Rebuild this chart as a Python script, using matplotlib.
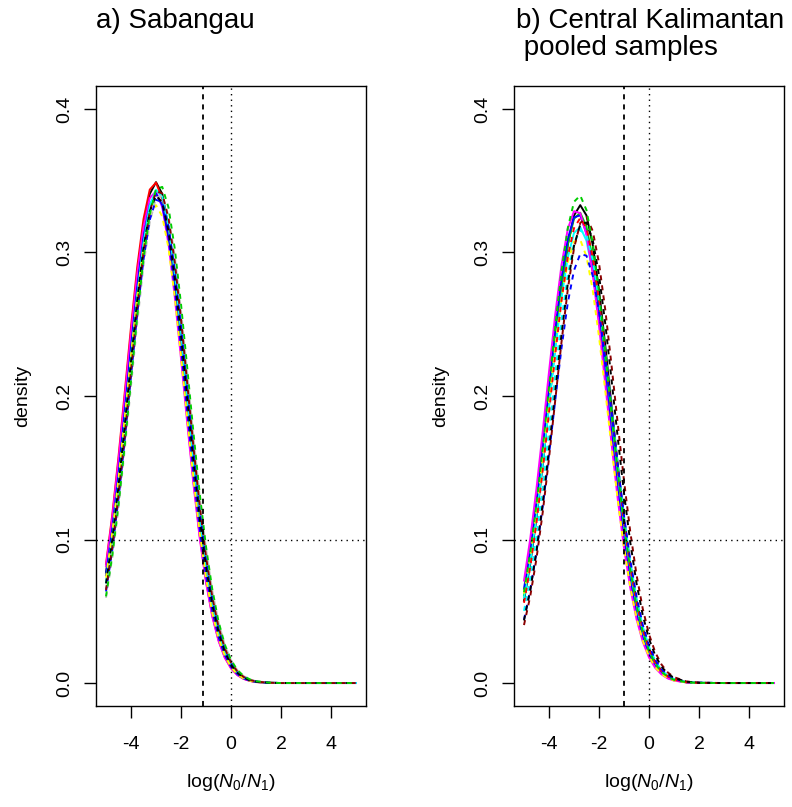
import matplotlib
matplotlib.use("Agg")
import matplotlib.pyplot as plt

plt.rcParams['font.family'] = ['Liberation Sans', 'DejaVu Sans']
plt.rcParams['mathtext.fontset'] = 'custom'
plt.rcParams['mathtext.rm'] = 'Liberation Sans'
plt.rcParams['mathtext.it'] = 'Liberation Sans:italic'
plt.rcParams['axes.unicode_minus'] = False

# ---------------- data ----------------
x_grid = [-5, -4.75, -4.5, -4.25, -4, -3.75, -3.5, -3.25, -3, -2.75, -2.5, -2.25, -2,
          -1.75, -1.5, -1.25, -1, -0.75, -0.5, -0.25, 0, 0.25, 0.5, 0.75, 1.0, 1.5, 2, 3, 4, 5]

# a) Sabangau
sab_black_solid = [0.0769,0.1097,0.1491,0.1933,0.2391,0.2821,0.3175,0.3408,0.3490,0.3408,0.3175,0.2821,0.2391,0.1933,0.1491,0.1097,0.0769,0.0515,0.0328,0.0200,0.0116,0.0064,0.0034,0.0017,0.0008,0.0002,0.0000,0,0,0]
sab_red_solid = [0.0829,0.1170,0.1576,0.2025,0.2481,0.2900,0.3233,0.3438,0.3487,0.3373,0.3113,0.2740,0.2300,0.1842,0.1407,0.1025,0.0713,0.0472,0.0299,0.0180,0.0104,0.0057,0.0030,0.0015,0.0007,0.0001,0,0,0,0]
sab_magenta_solid = [0.0815,0.1150,0.1549,0.1990,0.2438,0.2850,0.3177,0.3379,0.3427,0.3315,0.3059,0.2693,0.2261,0.1811,0.1383,0.1008,0.0700,0.0464,0.0294,0.0177,0.0102,0.0056,0.0029,0.0015,0.0007,0.0001,0,0,0,0]
sab_blue_solid = [0.0752,0.1071,0.1456,0.1889,0.2337,0.2757,0.3102,0.3330,0.3410,0.3330,0.3102,0.2757,0.2337,0.1889,0.1456,0.1071,0.0752,0.0503,0.0321,0.0195,0.0114,0.0063,0.0033,0.0017,0.0008,0.0002,0,0,0,0]
sab_cyan_solid = [0.0702,0.1011,0.1387,0.1816,0.2267,0.2701,0.3068,0.3325,0.3437,0.3388,0.3186,0.2858,0.2445,0.1996,0.1554,0.1153,0.0817,0.0552,0.0356,0.0218,0.0128,0.0072,0.0038,0.0020,0.0009,0.0002,0,0,0,0]
sab_green_dashed = [0.0604,0.0886,0.1240,0.1654,0.2105,0.2555,0.2958,0.3266,0.3441,0.3457,0.3313,0.3028,0.2641,0.2196,0.1742,0.1318,0.0951,0.0655,0.0430,0.0269,0.0161,0.0092,0.0050,0.0026,0.0013,0.0003,0,0,0,0]
sab_black_dashed = [0.0694,0.0999,0.1371,0.1795,0.2241,0.2669,0.3032,0.3286,0.3397,0.3349,0.3149,0.2825,0.2417,0.1973,0.1535,0.1140,0.0808,0.0545,0.0352,0.0216,0.0126,0.0071,0.0038,0.0019,0.0009,0.0002,0,0,0,0]
sab_blue_dashed = [0.0638,0.0927,0.1284,0.1697,0.2139,0.2572,0.2950,0.3227,0.3367,0.3351,0.3182,0.2881,0.2488,0.2050,0.1611,0.1208,0.0863,0.0589,0.0383,0.0238,0.0141,0.0079,0.0043,0.0022,0.0011,0.0002,0,0,0,0]
sab_yellow_dashed = [0.0734,0.1046,0.1422,0.1845,0.2282,0.2692,0.3030,0.3252,0.3330,0.3252,0.3030,0.2692,0.2282,0.1845,0.1422,0.1046,0.0734,0.0491,0.0313,0.0191,0.0111,0.0061,0.0032,0.0016,0.0008,0.0002,0,0,0,0]
sab_darkred_dashed = [0.0649,0.0943,0.1307,0.1727,0.2177,0.2618,0.3002,0.3285,0.3427,0.3411,0.3238,0.2932,0.2533,0.2086,0.1640,0.1229,0.0879,0.0599,0.0390,0.0242,0.0143,0.0081,0.0043,0.0022,0.0011,0.0002,0,0,0,0]
sab_gray_dashed = [0.0594,0.0871,0.1218,0.1625,0.2068,0.2510,0.2907,0.3210,0.3381,0.3397,0.3256,0.2976,0.2595,0.2158,0.1712,0.1295,0.0935,0.0644,0.0423,0.0265,0.0158,0.0090,0.0049,0.0025,0.0013,0.0003,0,0,0,0]

# b) Central Kalimantan pooled samples
ck_black_solid = [0.0574,0.0831,0.1150,0.1524,0.1936,0.2353,0.2739,0.3053,0.3258,0.3330,0.3258,0.3053,0.2739,0.2353,0.1936,0.1524,0.1150,0.0831,0.0574,0.0380,0.0241,0.0146,0.0085,0.0047,0.0025,0.0006,0.0001,0,0,0]
ck_magenta_solid = [0.0714,0.1006,0.1357,0.1753,0.2168,0.2568,0.2912,0.3163,0.3288,0.3274,0.3122,0.2850,0.2491,0.2085,0.1671,0.1282,0.0942,0.0663,0.0446,0.0288,0.0178,0.0105,0.0060,0.0032,0.0017,0.0004,0.0001,0,0,0]
ck_blue_solid = [0.0657,0.0934,0.1271,0.1656,0.2066,0.2468,0.2824,0.3093,0.3245,0.3259,0.3134,0.2886,0.2544,0.2148,0.1737,0.1344,0.0996,0.0707,0.0480,0.0313,0.0195,0.0116,0.0066,0.0036,0.0019,0.0005,0.0001,0,0,0]
ck_green_solid = [0.0611,0.0876,0.1202,0.1581,0.1989,0.2398,0.2767,0.3057,0.3235,0.3277,0.3179,0.2953,0.2626,0.2237,0.1824,0.1424,0.1065,0.0762,0.0523,0.0343,0.0215,0.0130,0.0075,0.0041,0.0022,0.0005,0.0001,0,0,0]
ck_cyan_solid = [0.0592,0.0849,0.1166,0.1532,0.1929,0.2325,0.2682,0.2964,0.3136,0.3177,0.3082,0.2863,0.2546,0.2168,0.1768,0.1381,0.1033,0.0739,0.0507,0.0333,0.0209,0.0126,0.0073,0.0040,0.0021,0.0005,0.0001,0,0,0]
ck_green_dashed = [0.0633,0.0908,0.1246,0.1638,0.2062,0.2485,0.2868,0.3169,0.3353,0.3397,0.3295,0.3061,0.2722,0.2318,0.1891,0.1476,0.1104,0.0790,0.0542,0.0356,0.0223,0.0135,0.0078,0.0043,0.0022,0.0005,0.0001,0,0,0]
ck_red_dashed = [0.0559,0.0808,0.1119,0.1483,0.1883,0.2289,0.2665,0.2971,0.3170,0.3240,0.3170,0.2971,0.2665,0.2289,0.1883,0.1483,0.1119,0.0808,0.0559,0.0370,0.0235,0.0142,0.0083,0.0046,0.0025,0.0006,0.0001,0,0,0]
ck_yellow_dashed = [0.0623,0.0885,0.1205,0.1570,0.1959,0.2340,0.2677,0.2933,0.3076,0.3089,0.2971,0.2736,0.2412,0.2036,0.1646,0.1274,0.0945,0.0671,0.0455,0.0296,0.0185,0.0110,0.0063,0.0034,0.0018,0.0004,0.0001,0,0,0]
ck_blue_dashed = [0.0441,0.0649,0.0914,0.1233,0.1593,0.1971,0.2334,0.2648,0.2875,0.2990,0.2977,0.2838,0.2591,0.2264,0.1895,0.1519,0.1166,0.0857,0.0603,0.0406,0.0262,0.0162,0.0096,0.0054,0.0029,0.0008,0.0002,0,0,0]
ck_darkred_dashed = [0.0404,0.0605,0.0868,0.1191,0.1566,0.1971,0.2376,0.2741,0.3029,0.3205,0.3247,0.3150,0.2926,0.2602,0.2216,0.1807,0.1411,0.1055,0.0755,0.0518,0.0340,0.0214,0.0129,0.0074,0.0041,0.0011,0.0002,0,0,0]
ck_black_dashed = [0.0436,0.0647,0.0919,0.1251,0.1630,0.2034,0.2430,0.2781,0.3046,0.3195,0.3209,0.3086,0.2842,0.2505,0.2115,0.1710,0.1324,0.0981,0.0696,0.0473,0.0308,0.0192,0.0114,0.0065,0.0036,0.0009,0.0002,0,0,0]
ck_cyan_dashed = [0.0503,0.0734,0.1026,0.1372,0.1757,0.2155,0.2530,0.2845,0.3063,0.3157,0.3116,0.2945,0.2665,0.2310,0.1917,0.1523,0.1158,0.0844,0.0589,0.0393,0.0252,0.0154,0.0090,0.0051,0.0027,0.0007,0.0002,0,0,0]

sab_threshold = -1.14
ck_threshold = -1.0
density_ref = 0.1

x_ticks = [-4, -2, 0, 2, 4]
y_ticks = [0.0, 0.1, 0.2, 0.3, 0.4]
y_ticklabels = ["0.0", "0.1", "0.2", "0.3", "0.4"]

BLACK, RED, GREEN, BLUE = "#000000", "#FF0000", "#00CD00", "#0000FF"
CYAN, MAGENTA, YELLOW, GRAY, DARKRED = "#00FFFF", "#FF00FF", "#FFFF00", "#BEBEBE", "#8B0000"

sab_curves = [
    (sab_black_solid, BLACK, "-"), (sab_red_solid, RED, "-"), (sab_magenta_solid, MAGENTA, "-"),
    (sab_blue_solid, BLUE, "-"), (sab_cyan_solid, CYAN, "-"),
    (sab_yellow_dashed, YELLOW, "--"), (sab_gray_dashed, GRAY, "--"), (sab_blue_dashed, BLUE, "--"),
    (sab_darkred_dashed, DARKRED, "--"), (sab_black_dashed, BLACK, "--"), (sab_green_dashed, GREEN, "--"),
]
ck_curves = [
    (ck_black_solid, BLACK, "-"), (ck_green_solid, GREEN, "-"), (ck_cyan_solid, CYAN, "-"),
    (ck_blue_solid, BLUE, "-"), (ck_magenta_solid, MAGENTA, "-"),
    (ck_yellow_dashed, YELLOW, "--"), (ck_cyan_dashed, CYAN, "--"), (ck_red_dashed, RED, "--"),
    (ck_blue_dashed, BLUE, "--"), (ck_darkred_dashed, DARKRED, "--"), (ck_black_dashed, BLACK, "--"),
    (ck_green_dashed, GREEN, "--"),
]

# ---------------- figure ----------------
W, H = 792, 807
fig = plt.figure(figsize=(W / 100, H / 100), dpi=100)

def px_axes(x0, x1, ytop, ybot):
    return fig.add_axes([x0 / W, 1 - ybot / H, (x1 - x0) / W, (ybot - ytop) / H])

ax_a = px_axes(96, 366, 86, 706)
ax_b = px_axes(514, 784, 86, 706)

def style(ax, curves, thr):
    for ys, col, ls in curves:
        if ls == "--":
            ax.plot(x_grid, ys, color=col, lw=1.4, ls=(0, (2.6, 2.6)))
        else:
            ax.plot(x_grid, ys, color=col, lw=1.4, ls="-")
    ax.axvline(thr, color="black", lw=1.3, ls=(0, (2.8, 2.8)))
    ax.axvline(0, color="black", lw=1.0, ls=(0, (1, 3)))
    ax.axhline(density_ref, color="black", lw=1.0, ls=(0, (1, 3)))
    ax.set_xlim(-5.4, 5.4)
    ax.set_ylim(-0.016, 0.416)
    ax.set_xticks(x_ticks)
    ax.set_xticklabels([str(v) for v in x_ticks])
    ax.set_yticks(y_ticks)
    ax.set_yticklabels(y_ticklabels, rotation=90, va="center")
    ax.tick_params(axis="both", direction="out", length=8.6, width=1.0, labelsize=14)
    ax.tick_params(axis="x", pad=13)
    ax.tick_params(axis="y", pad=8)
    for s in ax.spines.values():
        s.set_linewidth(1.0)
    ax.set_ylabel("density", fontsize=14, labelpad=18)
    ax.set_xlabel(r"log($N_0/N_1$)", fontsize=14, labelpad=14)

style(ax_a, sab_curves, sab_threshold)
style(ax_b, ck_curves, ck_threshold)

fig.text(96 / W, 1 - 28 / H, "a) Sabangau", fontsize=20, ha="left", va="baseline")
fig.text(516 / W, 1 - 28 / H, "b) Central Kalimantan", fontsize=20, ha="left", va="baseline")
fig.text(516 / W, 1 - 55 / H, " pooled samples", fontsize=20, ha="left", va="baseline")

fig.savefig("out.png", dpi=100)
